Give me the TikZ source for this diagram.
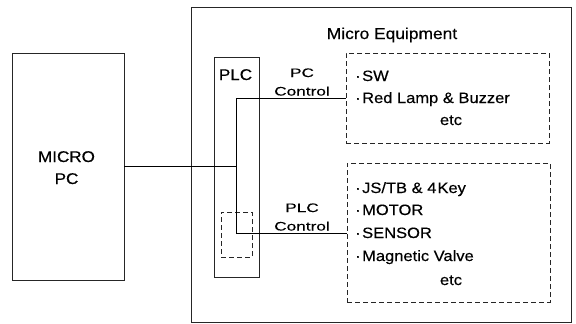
\documentclass[tikz,border=0pt]{standalone}
\usepackage{fontspec}
\setmainfont{Liberation Sans}[FakeStretch=1.1,FakeBold=0.4]
\newfontfamily\ctlfont{Liberation Sans}[FakeStretch=1.4,FakeBold=0.3]
\begin{document}
\begin{tikzpicture}[x=1pt,y=-1pt,
  box/.style={draw=black!85,line width=0.6pt,minimum width=#1,inner sep=0pt},
  dbox/.style={draw=black!85,line width=0.7pt,dash pattern=on 5pt off 3pt,inner sep=0pt},
  wire/.style={draw=black,line width=0.8pt},
  item/.style={anchor=base west,inner sep=0pt,font=\fontsize{15}{17}\selectfont},
  lbl/.style={anchor=base,inner sep=0pt},
  ctl/.style={anchor=base,inner sep=0pt,font=\ctlfont\fontsize{12.3}{14}\selectfont}]
\useasboundingbox (0,0) rectangle (576,324);
\fill[white] (0,0) rectangle (576,324);
% boxes
\node[box=112pt,minimum height=227pt] (pc) at (68,166.5) {};
\node[box=380pt,minimum height=315pt] (equip) at (381,164.5) {};
\node[box=45pt,minimum height=220pt] (plc) at (236.5,167) {};
\node[dbox,minimum width=31pt,minimum height=45pt] (plcin) at (236.5,234.5) {};
\node[dbox,minimum width=203pt,minimum height=90pt] (box1) at (447.5,98) {};
\node[dbox,minimum width=203pt,minimum height=139pt] (box2) at (448.5,232.5) {};
% labels
\node[lbl,font=\fontsize{15.5}{17}\selectfont] (t1) at (66.5,162) {MICRO};
\node[lbl,font=\fontsize{15.5}{17}\selectfont] (t2) at (66.5,184) {PC};
\node[lbl,font=\fontsize{15.8}{17}\selectfont] (t3) at (392,39) {Micro Equipment};
\node[lbl,font=\fontsize{15.5}{17}\selectfont] (t4) at (235.5,80) {PLC};
\node[ctl] (c1) at (302,77) {PC};
\node[ctl] (c2) at (302,95.5) {Control};
\node[ctl] (c3) at (302,212) {PLC};
\node[ctl] (c4) at (302,230.5) {Control};
% items
\node[item] (i1) at (355,81) {·\hspace{1.5pt}SW};
\node[item] (i2) at (355,103) {·\hspace{1.5pt}Red Lamp \& Buzzer};
\node[item,anchor=base] (i3) at (451,125) {etc};
\node[item] (j1) at (355,193) {·\hspace{1.5pt}JS/TB \& 4\hspace{1pt}Key};
\node[item] (j2) at (355,215) {·\hspace{1.5pt}MOTOR};
\node[item] (j3) at (355,238) {·\hspace{1.5pt}SENSOR};
\node[item] (j4) at (355,261) {·\hspace{1.5pt}Magnetic Valve};
\node[item,anchor=base] (j5) at (451,285) {etc};
% wires
\coordinate (jn) at (236,166.5);
\coordinate (tp) at (236,98);
\coordinate (bt) at (236,233);
\draw[wire] (pc.east) -- (jn);
\draw[wire] (box1.west |- tp) -- (tp) -- (bt) -- (box2.west |- bt);
\end{tikzpicture}
\end{document}
